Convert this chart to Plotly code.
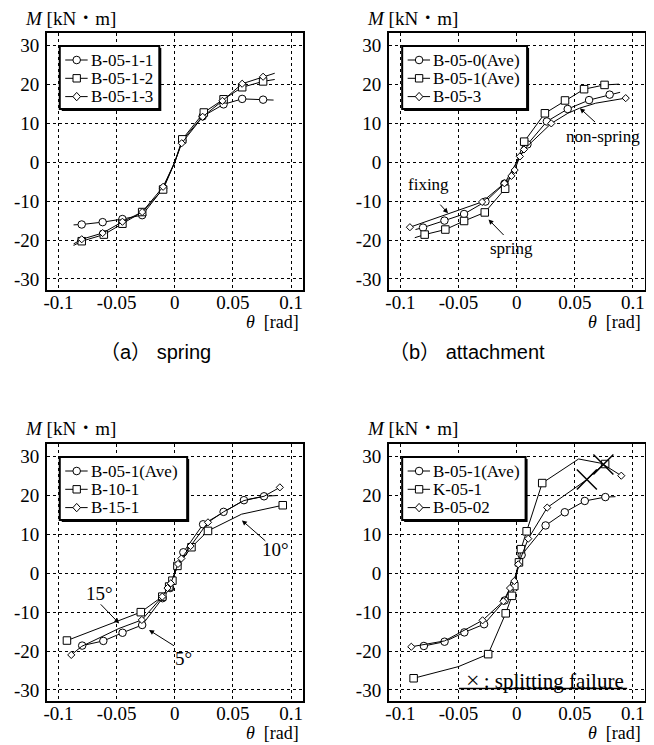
import plotly.graph_objects as go

# The page body has an 8 px margin, so the figure is drawn 8 px smaller
# and all reference pixel positions are shifted by that margin.
OFF = 8
W, H = 654 - OFF, 745 - OFF
SERIF = "Liberation Serif, Times New Roman, Noto Serif CJK JP, Noto Sans CJK JP, serif"
SANS = "Liberation Sans, Arial, Noto Sans CJK JP, sans-serif"

# ---------------- tick labels ----------------
x_tickvals = [-0.1, -0.05, 0, 0.05, 0.1]
x_ticktext = ["-0.1", "-0.05", "0", "0.05", "0.1"]
y_tickvals = [-30, -20, -10, 0, 10, 20, 30]
y_ticktext = ["-30", "-20", "-10", "0", "10", "20", "30"]

# ---------------- (a) spring ----------------
a1_name = "B-05-1-1"
a1_x = [-0.087, -0.080, -0.062, -0.045, -0.028, -0.010, 0.0, 0.0065, 0.024, 0.042, 0.058, 0.076, 0.085]
a1_y = [-16.1, -16.0, -15.4, -14.6, -13.6, -6.7, 0.0, 5.6, 11.8, 14.9, 16.3, 16.1, 16.0]
a1_m = [0, 1, 1, 1, 1, 1, 0, 1, 1, 1, 1, 1, 0]

a2_name = "B-05-1-2"
a2_x = [-0.087, -0.080, -0.061, -0.045, -0.028, -0.010, 0.0, 0.0065, 0.025, 0.042, 0.058, 0.076, 0.086]
a2_y = [-21.4, -20.3, -18.6, -15.8, -12.8, -7.0, 0.0, 5.9, 12.8, 16.2, 19.3, 20.8, 21.3]
a2_m = [0, 1, 1, 1, 1, 1, 0, 1, 1, 1, 1, 1, 0]

a3_name = "B-05-1-3"
a3_x = [-0.087, -0.080, -0.062, -0.045, -0.028, -0.010, 0.0, 0.006, 0.024, 0.041, 0.058, 0.076, 0.086]
a3_y = [-21.0, -19.8, -18.2, -15.3, -12.8, -6.3, 0.0, 4.9, 11.7, 15.8, 20.2, 22.0, 22.9]
a3_m = [0, 1, 1, 1, 1, 1, 0, 1, 1, 1, 1, 1, 0]

# ---------------- (b) attachment ----------------
b1_name = "B-05-0(Ave)"
b1_x = [-0.087, -0.0805, -0.0621, -0.0452, -0.0268, -0.0105, 0.0, 0.0093, 0.026, 0.0439, 0.0623, 0.080, 0.089]
b1_y = [-17.3, -16.8, -15.0, -13.3, -10.1, -5.5, 0.0, 4.6, 10.5, 13.7, 16.0, 17.4, 18.0]
b1_m = [0, 1, 1, 1, 1, 1, 0, 1, 1, 1, 1, 1, 0]

b2_name = "B-05-1(Ave)"
b2_x = [-0.0876, -0.0791, -0.0613, -0.0452, -0.0274, -0.0099, 0.0, 0.0065, 0.0243, 0.0416, 0.058, 0.0756, 0.088]
b2_y = [-19.4, -18.6, -17.3, -15.1, -12.9, -6.8, 0.0, 5.3, 12.6, 15.9, 18.8, 19.9, 20.1]
b2_m = [0, 1, 1, 1, 1, 1, 0, 1, 1, 1, 1, 1, 0]

b3_name = "B-05-3"
b3_x = [-0.0918, -0.0297, -0.0105, -0.0045, -0.0017, 0.0028, 0.0063, 0.0298, 0.044, 0.054, 0.068, 0.0938]
b3_y = [-16.7, -10.2, -5.4, -3.5, -2.0, 1.5, 3.3, 10.0, 12.6, 13.9, 15.2, 16.5]
b3_m = [1, 1, 1, 1, 1, 1, 1, 1, 0, 0, 0, 1]

# ---------------- (c) inclination ----------------
c1_name = "B-05-1(Ave)"
c1_x = [-0.0796, -0.0614, -0.0449, -0.0280, -0.0105, -0.004, 0.0, 0.0074, 0.0244, 0.042, 0.0595, 0.0768, 0.088]
c1_y = [-18.6, -17.4, -15.3, -13.3, -6.4, -3.8, 0.0, 5.4, 12.6, 15.8, 18.8, 19.8, 20.0]
c1_m = [1, 1, 1, 1, 1, 1, 0, 1, 1, 1, 1, 1, 0]

c2_name = "B-10-1"
c2_x = [-0.0927, -0.0292, -0.0107, -0.0048, -0.002, 0.0023, 0.0144, 0.0286, 0.0575, 0.0929]
c2_y = [-17.3, -10.0, -6.0, -3.4, -1.9, 1.9, 6.7, 10.9, 15.2, 17.5]
c2_m = [1, 1, 1, 1, 1, 1, 1, 1, 0, 1]

c3_name = "B-15-1"
c3_x = [-0.089, -0.080, -0.048, -0.0283, -0.0107, -0.0062, -0.0034, 0.0028, 0.0057, 0.0136, 0.0286, 0.042, 0.0595, 0.0768, 0.0904]
c3_y = [-21.0, -18.8, -14.2, -12.0, -6.0, -3.8, -2.6, 2.4, 3.8, 7.0, 13.1, 15.8, 18.7, 19.8, 22.1]
c3_m = [1, 0, 0, 1, 1, 1, 1, 1, 1, 1, 1, 0, 0, 0, 1]

# ---------------- (d) comparison ----------------
d1_name = "B-05-1(Ave)"
d1_x = [-0.0798, -0.062, -0.045, -0.028, -0.0103, 0.0, 0.0043, 0.0249, 0.0414, 0.0586, 0.0763, 0.085]
d1_y = [-18.7, -17.6, -15.2, -13.1, -7.0, 0.0, 4.7, 12.3, 15.7, 18.6, 19.6, 19.7]
d1_m = [1, 1, 1, 1, 1, 0, 1, 1, 1, 1, 1, 0]

d2_name = "K-05-1"
d2_x = [-0.0886, -0.050, -0.0245, -0.0094, -0.0040, -0.002, 0.002, 0.0037, 0.0086, 0.022, 0.0533, 0.0761]
d2_y = [-27.0, -24.0, -20.8, -10.3, -5.8, -3.3, 2.8, 6.2, 10.8, 23.2, 29.4, 28.1]
d2_m = [1, 0, 1, 1, 1, 1, 1, 1, 1, 1, 0, 1]

d3_name = "B-05-02"
d3_x = [-0.0906, -0.062, -0.0293, -0.0114, -0.0057, -0.002, 0.0014, 0.010, 0.0263, 0.0604, 0.0746, 0.090]
d3_y = [-18.9, -17.4, -12.1, -7.2, -3.8, -2.0, 2.3, 8.9, 16.9, 24.1, 28.0, 25.1]
d3_m = [1, 0, 1, 1, 1, 1, 1, 1, 1, 0, 0, 1]

fail_x = [0.0604, 0.0746]
fail_y = [24.1, 28.0]

captions = ["（a） spring", "（b） attachment"]

# ---------------- helpers ----------------
def px(x):
    return (x - OFF) / W

def py(y):
    return 1 - (y - OFF) / H

SYM = {"circle": ("circle", 7.5), "square": ("square", 7.5), "diamond": ("diamond", 5.5)}

panels = [
    ("", [(a1_x, a1_y, a1_m, "circle"), (a2_x, a2_y, a2_m, "square"), (a3_x, a3_y, a3_m, "diamond")]),
    ("2", [(b1_x, b1_y, b1_m, "circle"), (b2_x, b2_y, b2_m, "square"), (b3_x, b3_y, b3_m, "diamond")]),
    ("3", [(c1_x, c1_y, c1_m, "circle"), (c2_x, c2_y, c2_m, "square"), (c3_x, c3_y, c3_m, "diamond")]),
    ("4", [(d1_x, d1_y, d1_m, "circle"), (d2_x, d2_y, d2_m, "square"), (d3_x, d3_y, d3_m, "diamond")]),
]

fig = go.Figure()
for suffix, series in panels:
    for xs, ys, ms, sym in series:
        s, sz = SYM[sym]
        fig.add_trace(go.Scatter(
            x=xs, y=ys, mode="lines+markers",
            line=dict(color="black", width=1),
            marker=dict(symbol=s, size=sz, color="white",
                        opacity=[1 if m else 0 for m in ms],
                        line=dict(color="black", width=1)),
            xaxis="x" + suffix, yaxis="y" + suffix, showlegend=False,
            hoverinfo="skip"))

fig.add_trace(go.Scatter(
    x=fail_x, y=fail_y, mode="markers",
    marker=dict(symbol="x-thin", size=20, color="black", line=dict(color="black", width=1.5)),
    xaxis="x4", yaxis="y4", showlegend=False, hoverinfo="skip"))

# frame geometry in reference pixels
frames = {
    "": (44, 301, 33, 290),
    "2": (387.5, 644.5, 33, 290),
    "3": (44, 301, 444, 701),
    "4": (387.5, 644.5, 444, 701),
}

layout = dict(width=W, height=H, margin=dict(l=0, r=0, t=0, b=0), autosize=False,
              paper_bgcolor="white", plot_bgcolor="white", showlegend=False)
for suffix, (l, r, t, b) in frames.items():
    common = dict(showline=True, mirror=True, linecolor="black", linewidth=1.5,
                  showgrid=True, gridcolor="black", gridwidth=1, griddash="dot",
                  zeroline=False, ticks="", tickfont=dict(family=SERIF, size=19, color="black"))
    layout["xaxis" + suffix] = dict(domain=[px(l), px(r)], range=[-0.11, 0.11],
                                    tickvals=x_tickvals, ticktext=x_ticktext,
                                    anchor="y" + suffix, ticklabelstandoff=-6, **common)
    layout["yaxis" + suffix] = dict(domain=[py(b), py(t)], range=[-32.85, 33.25],
                                    tickvals=y_tickvals, ticktext=y_ticktext,
                                    anchor="x" + suffix, ticklabelstandoff=2, **common)
fig.update_layout(**layout)

ann = []
shapes = []
# axis titles
for suffix, (l, r, t, b) in frames.items():
    ann.append(dict(xref="paper", yref="paper", x=px(l - 24), y=py(t - 15), xanchor="left", yanchor="middle",
                    text="<i>M</i> [kN・m]", showarrow=False, font=dict(family=SERIF, size=19, color="black")))
    ty = 322 if t < 100 else 733
    ann.append(dict(xref="paper", yref="paper", x=px(r - 2), y=py(ty), xanchor="right", yanchor="middle",
                    text="<i>θ</i>\u2002[rad]", showarrow=False, font=dict(family=SERIF, size=18, color="black")))

# captions
ann.append(dict(xref="paper", yref="paper", x=px(153), y=py(352), xanchor="center", yanchor="middle",
                text=captions[0], showarrow=False, font=dict(family=SANS, size=20, color="black")))
ann.append(dict(xref="paper", yref="paper", x=px(466), y=py(352), xanchor="center", yanchor="middle",
                text=captions[1], showarrow=False, font=dict(family=SANS, size=20, color="black")))

# legends (drawn boxes)
def add_legend(L, T, R, labels, syms):
    B = T + 63
    shapes.append(dict(type="rect", xref="paper", yref="paper", x0=px(L + 2), x1=px(R + 2),
                       y0=py(B + 2), y1=py(T + 2), fillcolor="black", line=dict(width=0)))
    shapes.append(dict(type="rect", xref="paper", yref="paper", x0=px(L), x1=px(R),
                       y0=py(B), y1=py(T), fillcolor="white", line=dict(color="black", width=2)))
    for i, (lab, sym) in enumerate(zip(labels, syms)):
        yy = T + 14 + i * 18.3
        cx = L + 17
        shapes.append(dict(type="line", xref="paper", yref="paper", x0=px(L + 5.5), x1=px(L + 28),
                           y0=py(yy), y1=py(yy), line=dict(color="black", width=1)))
        if sym == "circle":
            shapes.append(dict(type="circle", xref="paper", yref="paper", x0=px(cx - 3.8), x1=px(cx + 3.8),
                               y0=py(yy + 3.8), y1=py(yy - 3.8), fillcolor="white", line=dict(color="black", width=1)))
        elif sym == "square":
            shapes.append(dict(type="rect", xref="paper", yref="paper", x0=px(cx - 3.7), x1=px(cx + 3.7),
                               y0=py(yy + 3.7), y1=py(yy - 3.7), fillcolor="white", line=dict(color="black", width=1)))
        else:
            path = "M %f,%f L %f,%f L %f,%f L %f,%f Z" % (
                px(cx), py(yy - 4.2), px(cx + 3.8), py(yy), px(cx), py(yy + 4.2), px(cx - 3.8), py(yy))
            shapes.append(dict(type="path", xref="paper", yref="paper", path=path, fillcolor="white",
                               line=dict(color="black", width=1)))
        ann.append(dict(xref="paper", yref="paper", x=px(L + 29), y=py(yy), xanchor="left", yanchor="middle",
                        text=lab, showarrow=False, font=dict(family=SERIF, size=17, color="black")))

SY = ["circle", "square", "diamond"]
add_legend(57, 46, 157, [a1_name, a2_name, a3_name], SY)
add_legend(401, 46, 526.5, [b1_name, b2_name, b3_name], SY)
add_legend(57, 457, 185, [c1_name, c2_name, c3_name], SY)
add_legend(401, 457, 525, [d1_name, d2_name, d3_name], SY)

# text labels with arrows (data coordinates)
labels_b = [("fixing", -0.0755, -5.8, 17), ("spring", -0.0047, -22.2, 17), ("non-spring", 0.0744, 6.6, 17)]
arrows_b = [(-0.059, -13.1, -0.0669, -10.5), (-0.0242, -14.7, -0.0099, -19.1), (0.0544, 13.9, 0.0687, 10.0)]
labels_c = [("15°", -0.0649, -5.2, 19), ("5°", 0.0079, -21.9, 19), ("10°", 0.0863, 6.2, 19)]
arrows_c = [(-0.0478, -12.9, -0.0649, -7.6), (-0.0221, -14.6, 0.0007, -18.9), (0.0578, 13.6, 0.0792, 8.0)]

for suffix, labs, arrs in [("2", labels_b, arrows_b), ("3", labels_c, arrows_c)]:
    for t, x, y, fs in labs:
        ann.append(dict(xref="x" + suffix, yref="y" + suffix, x=x, y=y, xanchor="center", yanchor="middle",
                        text=t, showarrow=False, font=dict(family=SERIF, size=fs, color="black")))
    for hx, hy, tx, ty in arrs:
        ann.append(dict(xref="x" + suffix, yref="y" + suffix, axref="x" + suffix, ayref="y" + suffix,
                        x=hx, y=hy, ax=tx, ay=ty, text="", showarrow=True, arrowhead=2, arrowsize=1,
                        arrowwidth=1, arrowcolor="black", standoff=0))

ann.append(dict(xref="x4", yref="y4", x=0.0245, y=-27.4, xanchor="center", yanchor="middle",
                text="<span style=\"font-size:24px\">×</span>\u2009: splitting failure", showarrow=False,
                font=dict(family=SERIF, size=21, color="black")))
shapes.append(dict(type="line", xref="paper", yref="paper", x0=px(458), x1=px(627), y0=py(688.5), y1=py(688.5),
                   line=dict(color="black", width=1.3)))

fig.update_layout(annotations=ann, shapes=shapes)
fig.write_html("out.html")
